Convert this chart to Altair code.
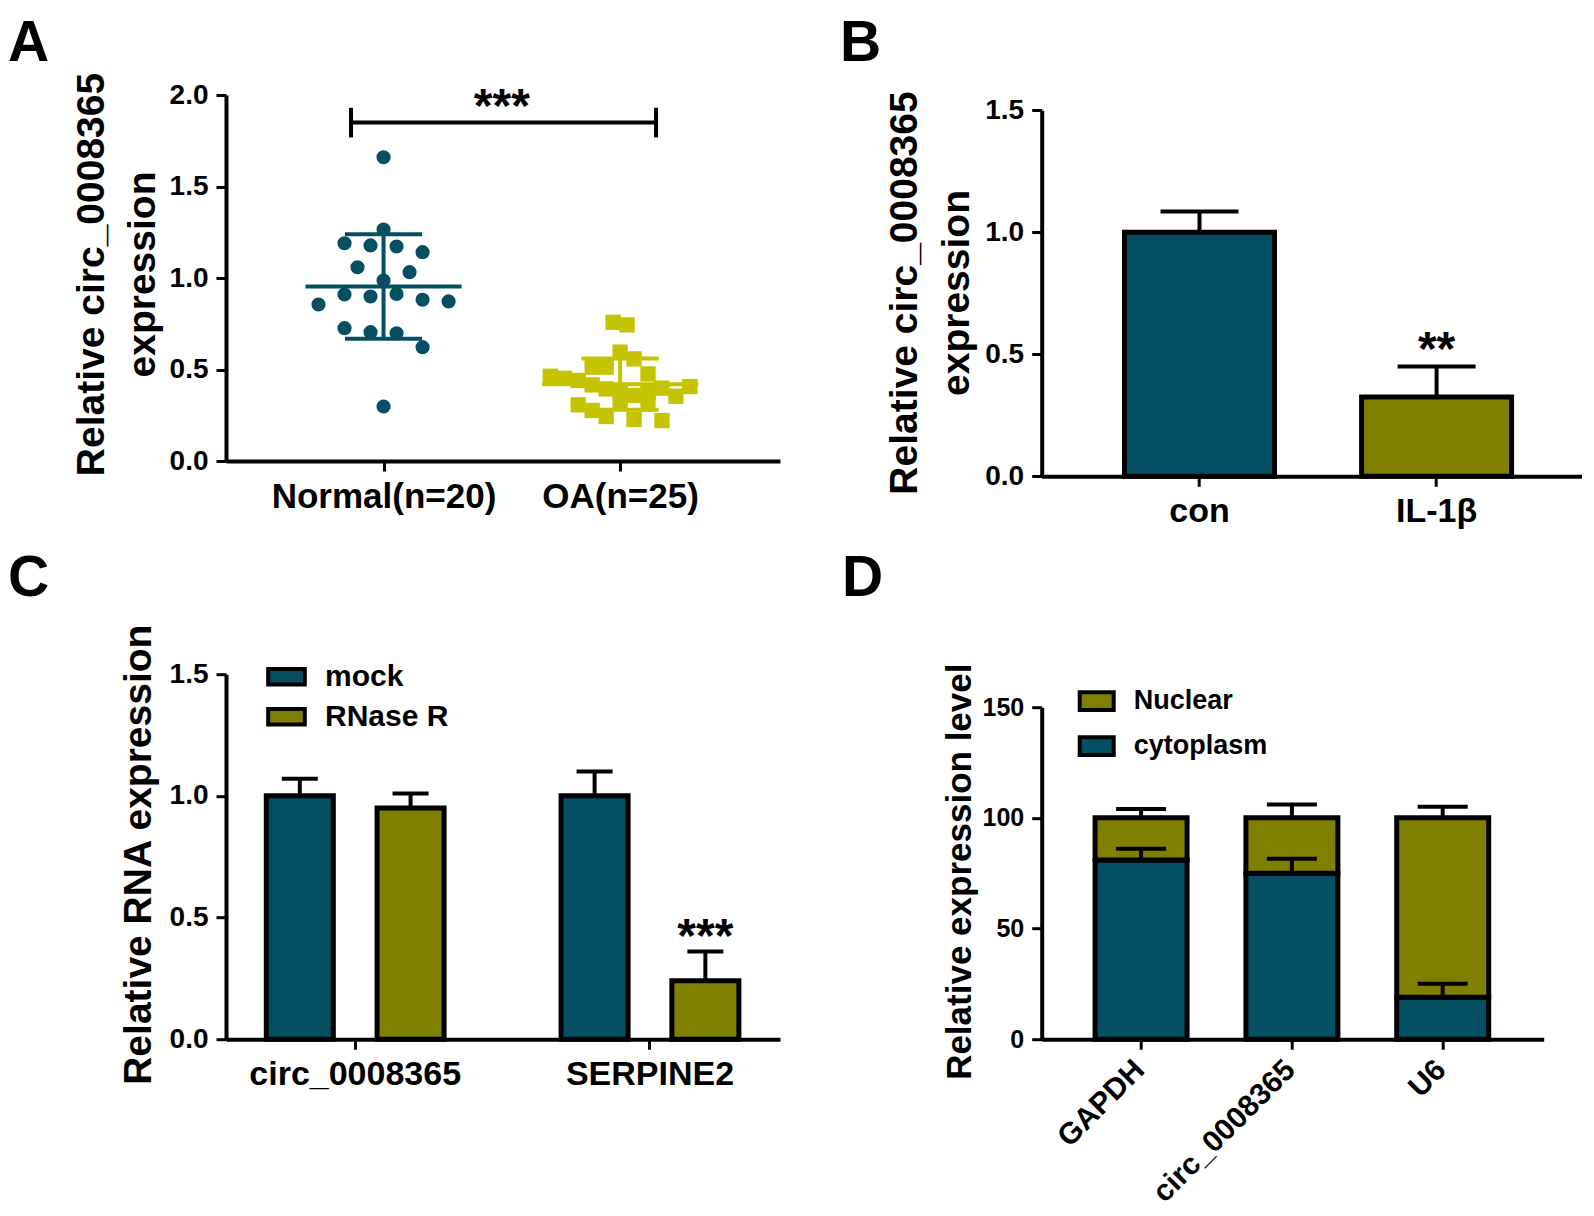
import altair as alt
import pandas as pd

FONT = "Liberation Sans"
TEAL = "#054F63"
OLIVE = "#7F7F00"
YELLOW = "#C4C400"

# ---------------- Panel A data ----------------
a_groups = ["Normal(n=20)", "OA(n=25)"]
a_normal = [1.66, 1.265, 1.19, 1.178, 1.172, 1.141, 1.059, 1.032, 0.986, 0.855,
            0.91, 0.899, 0.913, 0.881, 0.872, 0.726, 0.704, 0.698, 0.622, 0.298]
a_normal_col = [0, 0, -3, -1, 1, 3, -2, 2, 0, -5, -3, -1, 1, 3, 5, -3, -1, 1, 3, 0]
a_oa = [0.758, 0.744, 0.595, 0.558, 0.513, 0.513, 0.476, 0.463, 0.452, 0.44,
        0.416, 0.394, 0.385, 0.358, 0.374, 0.398, 0.354, 0.407, 0.307, 0.276,
        0.243, 0.318, 0.312, 0.227, 0.221]
a_oa_col = [-0.5, 0.5, 0, 1, -2, -1, 2, -5, -4, -3, -2, -1, 0, 1, 2, 3, 4, 5,
            -3, -2, -1, 0, 2, 1, 3]
a_sig = "***"
a_bracket_x = [0.8625, 2.152]
a_bracket_y = 1.85
a_bracket_tick = [1.768, 1.93]
a_sig_pos = [1.5, 1.852]

# ---------------- Panel B data ----------------
b_conds = ["con", "IL-1β"]
b_vals = [1.0, 0.325]
b_errs = [0.085, 0.125]
b_sig = "**"
b_sig_y = 0.455

# ---------------- Panel C data ----------------
c_genes = ["circ_0008365", "SERPINE2"]
c_treats = ["mock", "RNase R"]
c_mock = [1.0, 1.0]
c_mock_err = [0.07, 0.10]
c_rnase = [0.95, 0.24]
c_rnase_err = [0.06, 0.12]
c_sig = "***"
c_sig_y = 0.357

# ---------------- Panel D data ----------------
d_genes = ["GAPDH", "circ_0008365", "U6"]
d_comps = ["Nuclear", "cytoplasm"]
d_cyto = [81, 75, 19]
d_nuc = [19, 25, 81]
d_cyto_err = [5, 6.5, 6]
d_total_err = [4, 6, 5]


def letter(ch, x, y):
    return alt.Chart(pd.DataFrame({"t": [ch]})).mark_text(
        font=FONT, fontSize=57, fontWeight="bold", align="left",
        baseline="top", color="black"
    ).encode(text="t:N", x=alt.value(x), y=alt.value(y))


def anchor(x, y):
    # invisible mark fixing the top-left corner of the figure
    return alt.Chart(pd.DataFrame({"t": [0]})).mark_rule(
        strokeOpacity=0, strokeWidth=1
    ).encode(x=alt.value(x), y=alt.value(y), y2=alt.value(y + 5))


# ================= Panel A =================
rows = []
for v, c in zip(a_normal, a_normal_col):
    rows.append({"group": a_groups[0], "gx": 1, "value": v, "x": 1 + c * 0.055})
for v, c in zip(a_oa, a_oa_col):
    rows.append({"group": a_groups[1], "gx": 2, "value": v, "x": 2 + c * 0.059})
df_a = pd.DataFrame(rows)

axA_x = alt.Axis(values=[1, 2], title=None, labelAngle=0, labelFontSize=35,
                 labelPadding=8, labelLimit=500,
                 labelExpr="[" + ",".join("'%s'" % g for g in a_groups) + "][datum.value - 1]")
axA_y = alt.Axis(values=[0, 0.5, 1, 1.5, 2], format=".1f",
                 title=["Relative circ_0008365", "expression"],
                 titleX=-134.5, titleY=179, titleAngle=270, titleAlign="center",
                 titleBaseline="middle", titleFontSize=39, titleLineHeight=51,
                 labelFontSize=28, labelPadding=8)
scA_x = alt.Scale(domain=[0.334, 2.676], nice=False, zero=False)
scA_y = alt.Scale(domain=[0, 2], nice=False)
colA = alt.Color("group:N", scale=alt.Scale(domain=a_groups, range=[TEAL, YELLOW]), legend=None)


def xA(f):
    return alt.X(f, scale=scA_x, axis=axA_x)


def yA(f):
    return alt.Y(f, scale=scA_y, axis=axA_y)


baseA = alt.Chart(df_a)
circles = baseA.transform_filter(alt.datum.group == a_groups[0]).mark_circle(
    size=200, opacity=1).encode(x=xA("x:Q"), y=yA("value:Q"), color=colA)
squares = baseA.transform_filter(alt.datum.group == a_groups[1]).mark_square(
    size=235, opacity=1).encode(x=xA("x:Q"), y=yA("value:Q"), color=colA)

summ = baseA.transform_aggregate(
    m="mean(value)", s="stdev(value)", groupby=["group", "gx"]
).transform_calculate(
    lo="datum.m - datum.s", hi="datum.m + datum.s",
    ml="datum.gx - 0.33", mr="datum.gx + 0.33",
    cl="datum.gx - 0.163", cr="datum.gx + 0.163")
mean_rule = summ.mark_rule(strokeWidth=4).encode(x=xA("ml:Q"), x2="mr:Q", y=yA("m:Q"), color=colA)
sd_rule = summ.mark_rule(strokeWidth=4).encode(x=xA("gx:Q"), y=yA("lo:Q"), y2="hi:Q", color=colA)
cap_hi = summ.mark_rule(strokeWidth=4).encode(x=xA("cl:Q"), x2="cr:Q", y=yA("hi:Q"), color=colA)
cap_lo = summ.mark_rule(strokeWidth=4).encode(x=xA("cl:Q"), x2="cr:Q", y=yA("lo:Q"), color=colA)

df_br = pd.DataFrame({"x1": [a_bracket_x[0]], "x2": [a_bracket_x[1]], "y": [a_bracket_y]})
br_h = alt.Chart(df_br).mark_rule(strokeWidth=4, color="black").encode(
    x=xA("x1:Q"), x2="x2:Q", y=yA("y:Q"))
df_brv = pd.DataFrame({"x": a_bracket_x, "y1": [a_bracket_tick[0]] * 2, "y2": [a_bracket_tick[1]] * 2})
br_v = alt.Chart(df_brv).mark_rule(strokeWidth=4, color="black").encode(
    x=xA("x:Q"), y=yA("y1:Q"), y2="y2:Q")
sigA = alt.Chart(pd.DataFrame({"x": [a_sig_pos[0]], "y": [a_sig_pos[1]], "t": [a_sig]})).mark_text(
    font=FONT, fontSize=48, fontWeight="bold", baseline="alphabetic", color="black"
).encode(x=xA("x:Q"), y=yA("y:Q"), text="t:N")

panelA = alt.layer(circles, squares, mean_rule, sd_rule, cap_hi, cap_lo, br_h, br_v, sigA,
                   anchor(-218, -86.5), letter("A", -218, -79.5)).properties(width=554, height=366)

# ================= Panel B =================
df_b = pd.DataFrame({"cond": b_conds, "value": b_vals, "err": b_errs})
baseB = alt.Chart(df_b).transform_calculate(top="datum.value + datum.err")
axB_x = alt.Axis(title=None, labelAngle=0, labelFontSize=34, labelPadding=8, labelLimit=500)
scB_x = alt.Scale(domain=b_conds, paddingInner=0.3674, paddingOuter=0.3225, align=0.5415)
axB_y = alt.Axis(values=[0, 0.5, 1, 1.5], format=".1f",
                 title=["Relative circ_0008365", "expression"],
                 titleX=-136.7, titleY=197.5, titleAngle=270, titleAlign="center",
                 titleBaseline="middle", titleFontSize=39, titleLineHeight=52,
                 labelFontSize=28, labelPadding=8)
scB_y = alt.Scale(domain=[0, 1.5], range=[381.3, 15.3], nice=False)


def xB(f):
    return alt.X(f, sort=b_conds, scale=scB_x, axis=axB_x)


def yB(f):
    return alt.Y(f, scale=scB_y, axis=axB_y)


barsB = baseB.mark_bar(stroke="black", strokeWidth=5).encode(
    x=xB("cond:N"), y=yB("value:Q"),
    color=alt.Color("cond:N", scale=alt.Scale(domain=b_conds, range=[TEAL, OLIVE]), legend=None))
errB = baseB.mark_rule(strokeWidth=4, color="black").encode(x=xB("cond:N"), y=yB("value:Q"), y2="top:Q")
capB = baseB.mark_tick(size=78, thickness=4, color="black", opacity=1).encode(x=xB("cond:N"), y=yB("top:Q"))
sigB = alt.Chart(pd.DataFrame({"cond": [b_conds[1]], "y": [b_sig_y], "t": [b_sig]})).mark_text(
    font=FONT, fontSize=48, fontWeight="bold", baseline="alphabetic", color="black"
).encode(x=xB("cond:N"), y=yB("y:Q"), text="t:N")

panelB = alt.layer(barsB, errB, capB, sigB, letter("B", -201.7, -79.5)).properties(width=540, height=381.3)

# ================= Panel C =================
rows = []
for i, g in enumerate(c_genes):
    rows.append({"gene": g, "treat": c_treats[0], "value": c_mock[i], "err": c_mock_err[i]})
    rows.append({"gene": g, "treat": c_treats[1], "value": c_rnase[i], "err": c_rnase_err[i]})
df_c = pd.DataFrame(rows)
baseC = alt.Chart(df_c).transform_calculate(top="datum.value + datum.err")
axC_x = alt.Axis(title=None, labelAngle=0, labelFontSize=34, labelPadding=8, labelLimit=500)
scC_x = alt.Scale(domain=c_genes, paddingInner=0.2483, paddingOuter=0.0638, align=0.489)
axC_y = alt.Axis(values=[0, 0.5, 1, 1.5], format=".1f", title="Relative RNA expression",
                 titleX=-88, titleY=180, titleAngle=270, titleAlign="center",
                 titleBaseline="middle", titleFontSize=39, labelFontSize=28, labelPadding=8)
scC_y = alt.Scale(domain=[0, 1.5], nice=False)
offC = alt.XOffset("treat:N", sort=c_treats,
                   scale=alt.Scale(domain=c_treats, paddingInner=0.395, paddingOuter=0.1977))


def xC(f):
    return alt.X(f, sort=c_genes, scale=scC_x, axis=axC_x)


def yC(f):
    return alt.Y(f, scale=scC_y, axis=axC_y)


colC = alt.Color("treat:N", scale=alt.Scale(domain=c_treats, range=[TEAL, OLIVE]),
                 legend=alt.Legend(title=None, orient="none", legendX=40, legendY=-18,
                                   symbolType="M-1,-0.42H1V0.42H-1Z", symbolSize=1340,
                                   symbolStrokeColor="black", symbolStrokeWidth=4,
                                   symbolOpacity=1, labelFontSize=30, labelFont=FONT,
                                   labelFontWeight="bold", labelColor="black",
                                   labelOffset=18, rowPadding=3, padding=0))
barsC = baseC.mark_bar(stroke="black", strokeWidth=5).encode(
    x=xC("gene:N"), xOffset=offC, y=yC("value:Q"), color=colC)
errC = baseC.mark_rule(strokeWidth=4, color="black").encode(
    x=xC("gene:N"), xOffset=offC, y=yC("value:Q"), y2="top:Q")
capC = baseC.mark_tick(size=36, thickness=4, color="black", opacity=1).encode(
    x=xC("gene:N"), xOffset=offC, y=yC("top:Q"))
sigC = alt.Chart(pd.DataFrame({"gene": [c_genes[1]], "treat": [c_treats[1]], "y": [c_sig_y], "t": [c_sig]})).mark_text(
    font=FONT, fontSize=48, fontWeight="bold", baseline="alphabetic", color="black"
).encode(x=xC("gene:N"), xOffset=offC, y=yC("y:Q"), text="t:N")

panelC = alt.layer(barsC, errC, capC, sigC, letter("C", -218, -123)).properties(width=554, height=365)

# ================= Panel D =================
rows = []
for i, g in enumerate(d_genes):
    rows.append({"gene": g, "comp": "cytoplasm", "value": d_cyto[i], "ord": 0})
    rows.append({"gene": g, "comp": "Nuclear", "value": d_nuc[i], "ord": 1})
df_d = pd.DataFrame(rows)
erows = []
for i, g in enumerate(d_genes):
    erows.append({"gene": g, "base": d_cyto[i], "top": d_cyto[i] + d_cyto_err[i]})
    tot = d_cyto[i] + d_nuc[i]
    erows.append({"gene": g, "base": tot, "top": tot + d_total_err[i]})
df_de = pd.DataFrame(erows)

axD_x = alt.Axis(title=None, labelAngle=315, labelAlign="right", labelBaseline="top",
                 labelFontSize=30, labelPadding=5, labelOffset=-12, labelLimit=500)
scD_x = alt.Scale(domain=d_genes, paddingInner=0.39, paddingOuter=0.3594, align=0.4926)
axD_y = alt.Axis(values=[0, 50, 100, 150], title="Relative expression level",
                 titleX=-82, titleY=197, titleAngle=270, titleAlign="center",
                 titleBaseline="middle", titleFontSize=35, labelFontSize=25, labelPadding=8)
scD_y = alt.Scale(domain=[0, 150], range=[365, 33], nice=False)


def xD(f):
    return alt.X(f, sort=d_genes, scale=scD_x, axis=axD_x)


def yD(f, **kw):
    return alt.Y(f, scale=scD_y, axis=axD_y, **kw)


colD = alt.Color("comp:N", scale=alt.Scale(domain=d_comps, range=[OLIVE, TEAL]),
                 legend=alt.Legend(title=None, orient="none", legendX=36, legendY=8,
                                   symbolType="M-1,-0.52H1V0.52H-1Z", symbolSize=1156,
                                   symbolStrokeColor="black", symbolStrokeWidth=4,
                                   symbolOpacity=1, labelFontSize=27, labelFont=FONT,
                                   labelFontWeight="bold", labelColor="black",
                                   labelOffset=18, rowPadding=9, padding=0))
barsD = alt.Chart(df_d).mark_bar(stroke="black", strokeWidth=5).encode(
    x=xD("gene:N"), y=yD("value:Q", stack="zero"), color=colD, order=alt.Order("ord:Q"))
errD = alt.Chart(df_de).mark_rule(strokeWidth=4, color="black").encode(
    x=xD("gene:N"), y=yD("base:Q"), y2="top:Q")
capD = alt.Chart(df_de).mark_tick(size=50, thickness=4, color="black", opacity=1).encode(
    x=xD("gene:N"), y=yD("top:Q"))

panelD = alt.layer(barsD, errD, capD, letter("D", -199.7, -123)).properties(width=502, height=365)

chart = alt.concat(
    panelA, panelB, panelC, panelD, columns=2,
    spacing={"row": 197.2, "column": 261.7}, bounds="flush", align="all",
    padding=0
).resolve_scale(
    color="independent"
).configure(
    font=FONT, background="white"
).configure_axis(
    domainColor="black", domainWidth=4, tickColor="black", tickWidth=3, tickSize=10,
    labelColor="black", labelFont=FONT, labelFontWeight="bold",
    titleColor="black", titleFont=FONT, titleFontWeight="bold", grid=False
).configure_view(stroke=None)

chart.save("out.html", embed_options={"renderer": "svg", "actions": False})
